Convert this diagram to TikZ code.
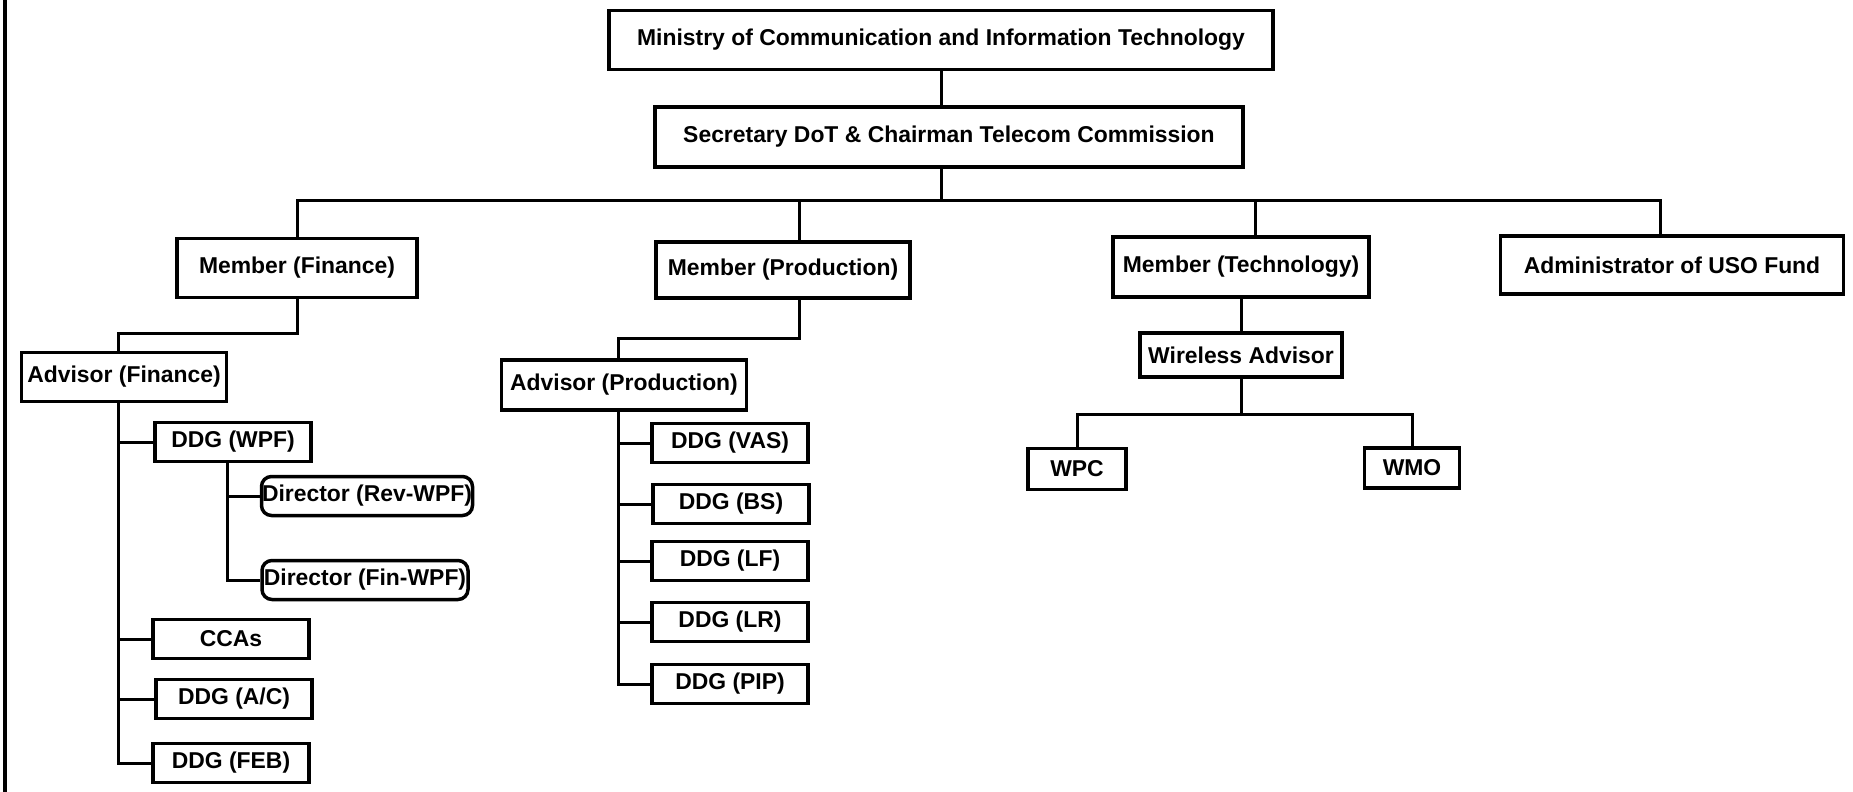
\documentclass[tikz,border=0pt]{standalone}
\usepackage{fontspec}
\setmainfont{Liberation Sans}
\begin{document}
\begin{tikzpicture}[x=1pt, y=-1pt,
  box/.style={draw, line width=3.5pt, inner sep=0pt, text centered,
    font=\fontsize{22.9}{26}\selectfont\bfseries},
  ddg/.style={box, minimum width=156pt, minimum height=39pt},
  director/.style={box, rounded corners=10pt, minimum height=39pt},
  link/.style={line width=3pt}]

\useasboundingbox (0,0) rectangle (1853,792);

% Left rule
\draw[line width=3.5pt] (5,0) -- (5,792);

% Nodes
\node (mict) [box, minimum width=664pt, minimum height=59pt] at (941,40) {Ministry of Communication and Information Technology};
\node (secy) [box, minimum width=588pt, minimum height=60pt] at (949,137) {Secretary DoT \& Chairman Telecom Commission};

\node (mfin) [box, minimum width=240pt, minimum height=59pt] at (297,268) {Member (Finance)};
\node (mprod) [box, minimum width=254pt, minimum height=56pt] at (783,270) {Member (Production)};
\node (mtech) [box, minimum width=256pt, minimum height=60pt] at (1241,267) {Member (Technology)};
\node (admin) [box, minimum width=343pt, minimum height=58pt] at (1672,265) {Administrator of USO Fund};

\node (afin) [box, minimum width=205pt, minimum height=49pt] at (124,377) {Advisor (Finance)};
\node (aprod) [box, minimum width=245pt, minimum height=50pt] at (624,385) {Advisor (Production)};
\node (wadv) [box, minimum width=202pt, minimum height=44pt] at (1241,355) {Wireless Advisor};

\node (wpf) [ddg] at (233,442) {DDG (WPF)};
\node (revwpf) [director, minimum width=211pt] at (367,496) {Director (Rev-WPF)};
\node (finwpf) [director, minimum width=206pt] at (365,580) {Director (Fin-WPF)};
\node (ccas) [ddg] at (231,639) {CCAs};
\node (ac) [ddg] at (234,699) {DDG (A/C)};
\node (feb) [ddg] at (231,763) {DDG (FEB)};

\node (vas) [ddg] at (730,443) {DDG (VAS)};
\node (bs) [ddg] at (731,504) {DDG (BS)};
\node (lf) [ddg] at (730,561) {DDG (LF)};
\node (lr) [ddg] at (730,622) {DDG (LR)};
\node (pip) [ddg] at (730,684) {DDG (PIP)};

\node (wpc) [box, minimum width=98pt, minimum height=41pt] at (1077,469) {WPC};
\node (wmo) [box, minimum width=95pt, minimum height=40pt] at (1412,468) {WMO};

% Connectors
\coordinate (bus) at (0,200);
\draw[link] (mict.south) -- (mict.south |- secy.north);
\draw[link] (mict.south |- secy.south) -- (mict.south |- bus);
\draw[link] (mfin.north) -- (mfin.north |- bus) -- ([xshift=-12pt]admin.north |- bus) -- ([xshift=-12pt]admin.north);
\draw[link] ([xshift=16pt]mprod.north |- bus) -- ([xshift=16pt]mprod.north);
\draw[link] ([xshift=14pt]mtech.north |- bus) -- ([xshift=14pt]mtech.north);

\draw[link] (mfin.south) -- ++(0,34) -| ([xshift=-6pt]afin.north);
\draw[link] ([xshift=16pt]mprod.south) -- ++(0,39) -| ([xshift=-6pt]aprod.north);
\draw[link] (mtech.south) -- (wadv.north);
\draw[link] (wadv.south) -- ++(0,36) coordinate (wbus);
\draw[link] (wpc.north) |- (wbus) -| (wmo.north);

% Finance branch
\foreach \n in {wpf, ccas, ac, feb}
  \draw[link] ([xshift=-6pt]afin.south) |- (\n.west);
\foreach \n in {revwpf, finwpf}
  \draw[link] ([xshift=-6pt]wpf.south) |- (\n.west);

% Production branch
\foreach \n in {vas, bs, lf, lr, pip}
  \draw[link] ([xshift=-6pt]aprod.south) |- (\n.west);

\end{tikzpicture}
\end{document}
